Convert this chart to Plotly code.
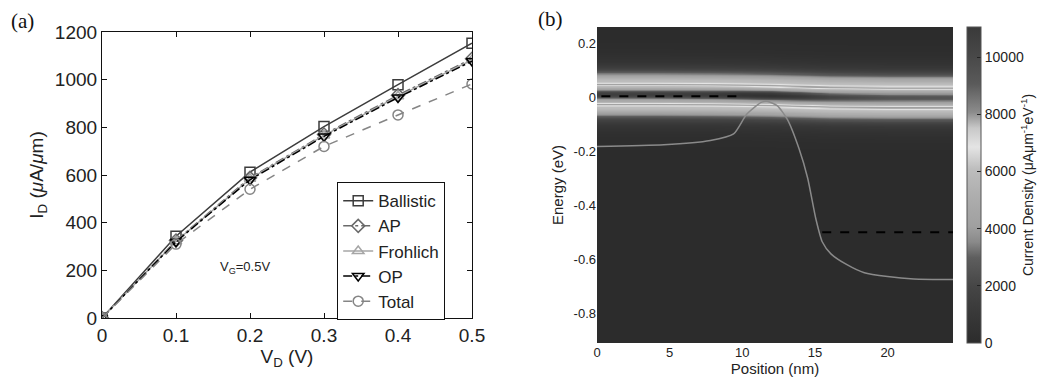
import numpy as np
import plotly.graph_objects as go

# ---------------- Panel (a) data ----------------
vd = [0, 0.1, 0.2, 0.3, 0.4, 0.5]
id_ballistic = [0, 343, 612, 803, 979, 1153]
id_ap = [0, 325, 588, 770, 935, 1088]
id_frohlich = [0, 322, 584, 766, 930, 1083]
id_op = [0, 320, 580, 762, 925, 1078]
id_total = [0, 310, 540, 720, 852, 982]

# ---------------- Panel (b) data ----------------
cb_pos = [0, 4.6, 7.8, 9.4, 10.3, 11.3, 11.7, 12.4, 13.1, 13.9, 14.5, 15.06, 15.5,
          16.1, 17.2, 18.4, 20, 21.8, 24.5]
cb_energy = [-0.182, -0.176, -0.16, -0.136, -0.063, -0.019, -0.015, -0.031, -0.082,
             -0.19, -0.30, -0.45, -0.535, -0.58, -0.62, -0.65, -0.664, -0.673, -0.675]
mu_s_pos = [0.3, 10.0]
mu_s_energy = [0.004, 0.004]
mu_d_pos = [15.5, 24.5]
mu_d_energy = [-0.5, -0.5]

band_pos = [0, 4, 8, 10, 12, 14, 16, 20, 24.5]
upper_band_eV = [0.047, 0.047, 0.046, 0.045, 0.043, 0.040, 0.037, 0.035, 0.035]
lower_band_eV = [-0.026, -0.026, -0.027, -0.028, -0.030, -0.033, -0.036, -0.038, -0.038]
gap_adjust = [-2700, -2700, -3000, -3500, -3700, -3200, -2300, -1700, -1600]
core_peak = 1900
shoulder_peak = 3700
halo_peak = 1800

pos_grid = np.arange(0, 24.5001, 0.125)
e_grid = np.arange(-0.91, 0.2601, 0.002)
up = np.interp(pos_grid, band_pos, upper_band_eV)
lo = np.interp(pos_grid, band_pos, lower_band_eV)
ga = np.interp(pos_grid, band_pos, gap_adjust)
E = e_grid[:, None]
Z = np.zeros((len(e_grid), len(pos_grid)))
for c, side in ((up, 1.0), (lo, -1.0)):
    d = E - c[None, :]
    ds = d - side * 0.01
    Z += (core_peak * np.exp(-(d / 0.006) ** 2) + shoulder_peak * np.exp(-(ds / 0.035) ** 2)
          + halo_peak * np.exp(-(d / 0.08) ** 2))
mid = (up + lo) / 2
Z += ga[None, :] * np.exp(-((E - mid[None, :]) / 0.018) ** 2)
Z = np.clip(Z, 0, None)

gray_scale = [
    [0.0, "#2c2c2c"], [0.09, "#383838"], [0.18, "#464646"], [0.27, "#5e5e5e"],
    [0.32, "#8a8a8a"], [0.37, "#a0a0a0"], [0.45, "#ababab"], [0.55, "#bdbdbd"],
    [0.62, "#e4e4e4"], [0.68, "#c8c8c8"], [0.73, "#8c8c8c"], [0.82, "#5a5a5a"],
    [0.91, "#484848"], [1.0, "#3a3a3a"],
]

OFF = 8  # page body margin
W, H = 1053 - OFF, 383 - OFF
def px(x):
    return (x - OFF) / W
def py(y):
    return 1 - (y - OFF) / H

fig = go.Figure()

series = [
    ("Ballistic", id_ballistic, "#3c3c3c", "solid", "square-open"),
    ("AP", id_ap, "#6a6a6a", "dashdot", "diamond-open"),
    ("Frohlich", id_frohlich, "#a6a6a6", "solid", "triangle-up-open"),
    ("OP", id_op, "#000000", "dashdot", "triangle-down-open"),
    ("Total", id_total, "#858585", "dash", "circle-open"),
]
for name, ys, col, dash, sym in series:
    fig.add_trace(go.Scatter(
        x=vd, y=ys, name=name, mode="lines+markers",
        line=dict(color=col, width=1.5, dash=dash),
        marker=dict(symbol=sym, size=10, color=col, line=dict(width=1.5, color=col)),
        xaxis="x", yaxis="y",
    ))

cb_ticks = [0, 2000, 4000, 6000, 8000, 10000]
fig.add_trace(go.Heatmap(
    x=pos_grid, y=e_grid, z=Z, zmin=0, zmax=11050, colorscale=gray_scale,
    xaxis="x2", yaxis="y2", showlegend=False, zsmooth="best",
    colorbar=dict(
        x=px(967), xanchor="left", y=(py(27) + py(343)) / 2, yanchor="middle",
        len=(343 - 27) / H, lenmode="fraction", thickness=14, thicknessmode="pixels",
        ypad=0, xpad=0,
        tickvals=cb_ticks, ticktext=[str(v) for v in cb_ticks], ticks="inside", ticklen=4,
        tickcolor="#222", outlinewidth=1, outlinecolor="#555",
        tickfont=dict(family="Liberation Sans, Arial", size=14, color="#222"),
        title=dict(text="Current Density (μAμm<sup>-1</sup>eV<sup>-1</sup>)", side="right",
                   font=dict(family="Liberation Sans, Arial", size=14, color="#222")),
    ),
))
fig.add_trace(go.Scatter(x=cb_pos, y=cb_energy, mode="lines",
                         line=dict(color="#8a8a8a", width=1.5, shape="spline", smoothing=0.6),
                         xaxis="x2", yaxis="y2", showlegend=False))
fig.add_trace(go.Scatter(x=mu_s_pos, y=mu_s_energy, mode="lines", line=dict(color="#000", width=2, dash="dash"),
                         xaxis="x2", yaxis="y2", showlegend=False))
fig.add_trace(go.Scatter(x=mu_d_pos, y=mu_d_energy, mode="lines", line=dict(color="#000", width=2, dash="dash"),
                         xaxis="x2", yaxis="y2", showlegend=False))

fa = dict(family="Liberation Sans, Arial", size=19, color="#222")
fb = dict(family="Liberation Sans, Arial", size=13, color="#222")

fig.update_layout(
    width=W, height=H, margin=dict(l=0, r=0, t=0, b=0, autoexpand=False),
    paper_bgcolor="white", plot_bgcolor="white",
    xaxis=dict(domain=[px(102), px(472)], range=[0, 0.5], tickvals=[0, 0.1, 0.2, 0.3, 0.4, 0.5],
               ticktext=["0", "0.1", "0.2", "0.3", "0.4", "0.5"],
               showline=True, linecolor="#111", linewidth=1.2, mirror="ticks", ticks="inside",
               ticklen=5, tickcolor="#111", showgrid=False, zeroline=False, tickfont=fa,
               title=dict(text="V<sub>D</sub> (V)", font=fa, standoff=3), anchor="y"),
    yaxis=dict(domain=[py(318), py(32)], range=[0, 1200], tickvals=[0, 200, 400, 600, 800, 1000, 1200],
               showline=True, linecolor="#111", linewidth=1.2, mirror="ticks", ticks="inside",
               ticklen=5, tickcolor="#111", showgrid=False, zeroline=False, tickfont=fa,
               title=dict(text="I<sub>D</sub> (<i>μ</i>A/<i>μ</i>m)",
                          font=dict(family="Liberation Sans, Arial", size=19, color="#222"), standoff=6),
               anchor="x"),
    xaxis2=dict(domain=[px(597), px(953)], range=[0, 24.5], tickvals=[0, 5, 10, 15, 20],
                showline=False, ticks="", showgrid=False, zeroline=False, tickfont=fb,
                title=dict(text="Position (nm)", font=dict(family="Liberation Sans, Arial", size=15, color="#222"), standoff=2),
                anchor="y2"),
    yaxis2=dict(domain=[py(343), py(27)], range=[-0.91, 0.26],
                tickvals=[0.2, 0, -0.2, -0.4, -0.6, -0.8], ticktext=["0.2", "0", "-0.2", "-0.4", "-0.6", "-0.8"],
                showline=False, ticks="", showgrid=False, zeroline=False, tickfont=fb,
                title=dict(text="Energy (eV)", font=dict(family="Liberation Sans, Arial", size=15, color="#222"), standoff=6),
                anchor="x2"),
    legend=dict(x=px(337), y=py(182), xanchor="left", yanchor="top", bgcolor="white",
                bordercolor="#111", borderwidth=1.2, font=dict(family="Liberation Sans, Arial", size=17, color="#222"),
                tracegroupgap=0, itemwidth=30),
    showlegend=True,
    annotations=[
        dict(text="(a)", x=px(22), y=py(21), xref="paper", yref="paper", showarrow=False,
             xanchor="center", yanchor="middle", borderpad=0,
             font=dict(family="Liberation Serif, Times New Roman", size=21, color="#111")),
        dict(text="(b)", x=px(550), y=py(19), xref="paper", yref="paper", showarrow=False,
             xanchor="center", yanchor="middle", borderpad=0,
             font=dict(family="Liberation Serif, Times New Roman", size=21, color="#111")),
        dict(text="V<sub>G</sub>=0.5V", x=0.193, y=211, xref="x", yref="y", showarrow=False,
             xanchor="center", yanchor="middle",
             font=dict(family="Liberation Sans, Arial", size=13, color="#222")),
    ],
)

fig.write_html("out.html")
